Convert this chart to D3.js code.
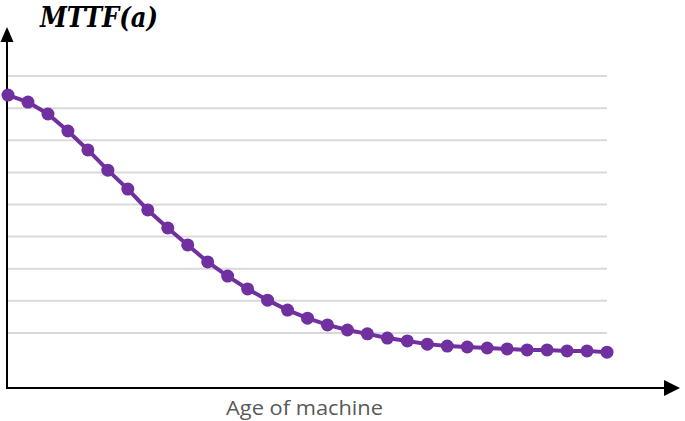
<!DOCTYPE html>
<html>
<head>
<meta charset="utf-8">
<script src="https://cdn.jsdelivr.net/npm/d3@7"></script>
<style>
  body { margin: 0; background: #fff; }
</style>
</head>
<body>
<div id="chart"></div>
<script>
// machine age (index of each point along the x axis)
const ages = [0, 1, 2, 3, 4, 5, 6, 7, 8, 9, 10, 11, 12, 13, 14, 15,
              16, 17, 18, 19, 20, 21, 22, 23, 24, 25, 26, 27, 28, 29, 30];

// MTTF (arbitrary units, gridlines at 1..9)
const mttf = [8.41, 8.19, 7.82, 7.29, 6.70, 6.07, 5.48, 4.83, 4.27, 3.74,
              3.21, 2.77, 2.37, 2.02, 1.71, 1.46, 1.25, 1.09, 0.97, 0.84,
              0.75, 0.65, 0.59, 0.56, 0.53, 0.50, 0.47, 0.47, 0.44, 0.44, 0.40];

// gridline values
const gridValues = [1, 2, 3, 4, 5, 6, 7, 8, 9];

const titleText = "MTTF(a)";
const xLabel = "Age of machine";

const width = 685, height = 421;
const axisX = 7, axisY = 388;

const svg = d3.select("#chart")
  .append("svg")
  .attr("width", width)
  .attr("height", height);

// scales
const x = d3.scaleLinear()
  .domain([0, 30])
  .range([8, 607]);

const y = d3.scaleLinear()
  .domain([0, 10])
  .range([365, 44]);

// light horizontal gridlines
svg.append("g")
  .selectAll("line")
  .data(gridValues)
  .enter().append("line")
  .attr("x1", axisX)
  .attr("x2", x(30))
  .attr("y1", d => y(d))
  .attr("y2", d => y(d))
  .attr("stroke", "#d9d9d9")
  .attr("stroke-width", 2);

// axes with arrow heads
svg.append("line")
  .attr("x1", axisX).attr("y1", axisY)
  .attr("x2", axisX).attr("y2", 40)
  .attr("stroke", "#000")
  .attr("stroke-width", 2);

svg.append("path")
  .attr("d", `M${axisX},27 L${axisX - 6.5},42 L${axisX + 6.5},42 Z`)
  .attr("fill", "#000");

svg.append("line")
  .attr("x1", axisX - 1).attr("y1", axisY)
  .attr("x2", 666).attr("y2", axisY)
  .attr("stroke", "#000")
  .attr("stroke-width", 2);

svg.append("path")
  .attr("d", `M680,${axisY} L664,${axisY - 8} L664,${axisY + 8} Z`)
  .attr("fill", "#000");

// the curve
const line = d3.line()
  .x((d, i) => x(ages[i]))
  .y(d => y(d));

svg.append("path")
  .datum(mttf)
  .attr("d", line)
  .attr("fill", "none")
  .attr("stroke", "#7030a0")
  .attr("stroke-width", 4);

svg.append("g")
  .selectAll("circle")
  .data(mttf)
  .enter().append("circle")
  .attr("cx", (d, i) => x(ages[i]))
  .attr("cy", d => y(d))
  .attr("r", 6.5)
  .attr("fill", "#7030a0");

// title and axis label
svg.append("text")
  .attr("x", 40)
  .attr("y", 27)
  .attr("font-family", "DejaVu Serif")
  .attr("font-style", "italic")
  .attr("font-weight", "bold")
  .attr("font-size", 27)
  .attr("fill", "#000")
  .attr("textLength", 118)
  .attr("lengthAdjust", "spacingAndGlyphs")
  .text(titleText);

svg.append("text")
  .attr("x", 226)
  .attr("y", 415)
  .attr("font-family", "'Open Sans', Lato, sans-serif")
  .attr("font-size", 20)
  .attr("fill", "#595959")
  .attr("textLength", 157)
  .attr("lengthAdjust", "spacingAndGlyphs")
  .text(xLabel);
</script>
</body>
</html>
